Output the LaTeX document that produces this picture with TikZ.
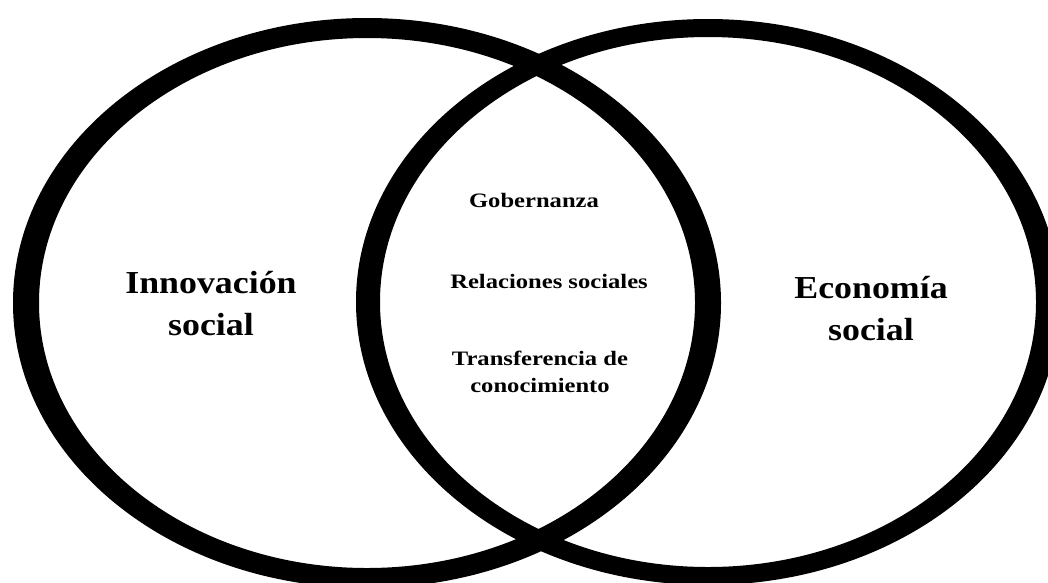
\documentclass[tikz,border=0pt]{standalone}
\usepackage{fontspec}
\setmainfont{Liberation Serif}
\begin{document}
\begin{tikzpicture}[x=1pt,y=-1pt,
  ring/.style={fill=black,even odd rule},
  bigtxt/.style={font=\bfseries\fontsize{32}{38}\selectfont,anchor=base,inner sep=0pt,xscale=1.12},
  smalltxt/.style={font=\bfseries\fontsize{20.5}{24}\selectfont,anchor=base,inner sep=0pt,xscale=1.2}]
\fill[white] (0,0) rectangle (1048,582);
\useasboundingbox (0,0) rectangle (1048,582);
\coordinate (cl) at (367,303);
\coordinate (cr) at (708,302);
\fill[ring] (cl) ellipse [x radius=354, y radius=285] (cl) ellipse [x radius=328, y radius=265];
\fill[ring] (cr) ellipse [x radius=352, y radius=283] (cr) ellipse [x radius=328, y radius=265];
\node[bigtxt] (in1) at (211,293) {Innovación};
\node[bigtxt] (in2) at (211,335) {social};
\node[bigtxt] (ec1) at (871,298) {Economía};
\node[bigtxt] (ec2) at (871,340) {social};
\node[smalltxt] (gob) at (534,207) {Gobernanza};
\node[smalltxt] (rel) at (549,288) {Relaciones sociales};
\node[smalltxt] (tr1) at (540,365) {Transferencia de};
\node[smalltxt] (tr2) at (540,392) {conocimiento};
\end{tikzpicture}
\end{document}
